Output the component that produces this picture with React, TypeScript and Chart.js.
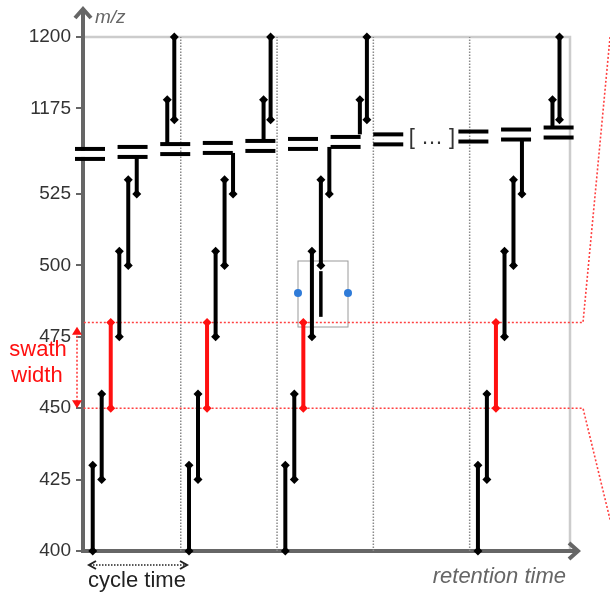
import React, { useEffect, useRef } from 'react';
import { Chart, registerables } from 'chart.js';
Chart.register(...registerables);

// ---------- data ----------
// m/z values above the axis break are drawn shifted down by BREAK_SHIFT
const BREAK_SHIFT = 620;
const yTickValues = [400, 425, 450, 475, 500, 525, 1175, 1200];
const toAxis = (mz: number) => (mz > 1000 ? mz - BREAK_SHIFT : mz);

// retention time in units of one cycle time; cycle 4 is elided ("[ … ]")
const cycleStarts = [0, 1, 2, 4];
const cycleBoundaries = [1.015, 2.015, 3.015, 4.015];
const scanOffsets = [0.101, 0.194, 0.288, 0.377, 0.47, 0.558, 0.875, 0.948];
// isolation windows (m/z); null = the scan runs into the axis break
const windowLow: (number | null)[] = [400, 425, 450, 475, 500, 525, null, 1171];
const windowHigh: (number | null)[] = [430, 455, 480, 505, 530, null, 1178, 1200];
const highlightedScan = 2;
// where the break-crossing scans meet the break marks (axis units), per cycle
const lowerBreakEnds = [538.0, 539.4, 541.5, 544.3];
const upperBreakEnds = [542.5, 543.6, 545.9, 548.3];

// axis-break marks: start time and level of the upper stroke of each pair
const breakStarts = [-0.083, 0.359, 0.802, 1.244, 1.686, 2.129, 2.571, 3.014, 3.898, 4.341, 4.783];
const breakLevels = [540.8, 541.5, 542.5, 542.9, 543.6, 544.3, 545.0, 545.9, 546.9, 547.6, 548.3];
const breakLength = 0.3115;
const breakGap = 3.5;

// selected scan extension (cycle 3, scan 5)
const selectedScan = { cycle: 2, scan: 4, from: 498, to: 482 };

// swath (isolation window) guide levels and where they leave the plot
const guideLevels = [480, 450];
const guideKnee = 5.192;
const guideEndX = 5.473;
const guideEndY = [580, 411];

const X_MIN = 0;
const X_MAX = 5.057;

// ---------- styles ----------
const FONT = "'Liberation Sans', Arial, sans-serif";
const BLACK = '#000000';
const RED = '#ff1010';
const AXIS = '#666666';

function buildDatasets() {
  const ds: any[] = [];
  cycleStarts.forEach((c, ci) => {
    scanOffsets.forEach((off, si) => {
      const x = c + off;
      const lo = windowLow[si];
      const hi = windowHigh[si];
      const yLo = lo === null ? upperBreakEnds[ci] : toAxis(lo);
      const yHi = hi === null ? lowerBreakEnds[ci] : toAxis(hi);
      const col = si === highlightedScan ? RED : BLACK;
      ds.push({
        data: [{ x, y: yLo }, { x, y: yHi }],
        borderColor: col,
        backgroundColor: col,
        pointBackgroundColor: col,
        pointBorderColor: col,
        borderWidth: 4,
        pointStyle: 'rectRot',
        pointRadius: [lo === null ? 0 : 4.5, hi === null ? 0 : 4.5],
        pointBorderWidth: 0,
        order: 1,
        clip: false,
      });
    });
  });
  // extension of the selected scan
  const sx = cycleStarts[selectedScan.cycle] + scanOffsets[selectedScan.scan];
  ds.push({
    data: [{ x: sx, y: selectedScan.to }, { x: sx, y: selectedScan.from }],
    borderColor: BLACK, borderWidth: 3.5, pointRadius: 0, order: 1,
  });
  // axis break marks
  breakStarts.forEach((s, i) => {
    const top = breakLevels[i];
    const bot = top - breakGap;
    ds.push({
      data: [{ x: s, y: top }, { x: s + breakLength, y: top }],
      borderColor: BLACK, borderWidth: 4, pointRadius: 0, clip: false, order: 0,
    });
    ds.push({
      data: [{ x: s, y: bot }, { x: s + breakLength, y: bot }],
      borderColor: BLACK, borderWidth: 4, pointRadius: 0, clip: false, order: 0,
    });
    if (i === 0) {
      ds.push({
        data: [{ x: s, y: (top + bot) / 2 }, { x: s + breakLength, y: (top + bot) / 2 }],
        borderColor: '#ffffff', borderWidth: 6, pointRadius: 0, clip: false, order: 0.5,
      });
    }
  });
  // cycle boundaries (dotted)
  cycleBoundaries.forEach((b) => {
    ds.push({
      data: [{ x: b, y: 400 }, { x: b, y: 580 }],
      borderColor: '#8a8a8a', borderWidth: 1.5, borderDash: [1.5, 1.5], pointRadius: 0, order: 5,
    });
  });
  // swath guide lines (listed right-to-left)
  guideLevels.forEach((lv, i) => {
    ds.push({
      data: [{ x: guideEndX, y: guideEndY[i] }, { x: guideKnee, y: lv }, { x: X_MIN, y: lv }],
      borderColor: '#ff4040', borderWidth: 1.6, borderDash: [2, 2], pointRadius: 0, clip: false, order: 4,
    });
  });
  return ds;
}

const overlay = {
  id: 'overlay',
  beforeDatasetsDraw(chart: any) {
    const { ctx, chartArea: a } = chart;
    ctx.save();
    // light frame
    ctx.strokeStyle = '#cccccc';
    ctx.lineWidth = 2.5;
    ctx.beginPath();
    ctx.moveTo(a.left, a.top);
    ctx.lineTo(a.right, a.top);
    ctx.lineTo(a.right, a.bottom);
    ctx.stroke();
    // selection box
    ctx.strokeStyle = '#9a9a9a';
    ctx.lineWidth = 1;
    ctx.strokeRect(298, 261, 50, 66);
    // axes
    ctx.strokeStyle = AXIS;
    ctx.lineWidth = 4;
    ctx.beginPath();
    ctx.moveTo(a.left, a.bottom + 2);
    ctx.lineTo(a.left, 9);
    ctx.stroke();
    ctx.beginPath();
    ctx.moveTo(a.left - 2, a.bottom);
    ctx.lineTo(577, a.bottom);
    ctx.stroke();
    ctx.lineJoin = 'miter';
    ctx.beginPath();
    ctx.moveTo(a.left - 8, 18);
    ctx.lineTo(a.left, 9);
    ctx.lineTo(a.left + 8, 18);
    ctx.stroke();
    ctx.beginPath();
    ctx.moveTo(569, a.bottom - 8);
    ctx.lineTo(578, a.bottom);
    ctx.lineTo(569, a.bottom + 8);
    ctx.stroke();
    ctx.restore();
  },
  afterDatasetsDraw(chart: any) {
    const { ctx, scales } = chart;
    const x = scales.x;
    const y = scales.y;
    ctx.save();
    ctx.textBaseline = 'middle';
    // axis titles
    ctx.fillStyle = AXIS;
    ctx.font = `italic 19px ${FONT}`;
    ctx.textAlign = 'left';
    ctx.fillText('m/z', 95, 18);
    ctx.font = `italic 22px ${FONT}`;
    ctx.textAlign = 'right';
    ctx.fillText('retention time', 566, 577);
    // cycle time
    ctx.fillStyle = '#222222';
    ctx.font = `22px ${FONT}`;
    ctx.textAlign = 'center';
    ctx.fillText('cycle time', 137, 581);
    ctx.strokeStyle = '#222222';
    ctx.lineWidth = 1.5;
    ctx.setLineDash([1.5, 1.5]);
    ctx.beginPath();
    ctx.moveTo(90, 565);
    ctx.lineTo(186, 565);
    ctx.stroke();
    ctx.setLineDash([]);
    ctx.lineWidth = 2;
    ctx.beginPath();
    ctx.moveTo(96, 561); ctx.lineTo(89, 565); ctx.lineTo(96, 569);
    ctx.moveTo(180, 561); ctx.lineTo(187, 565); ctx.lineTo(180, 569);
    ctx.stroke();
    // swath width
    ctx.fillStyle = RED;
    ctx.font = `22px ${FONT}`;
    ctx.fillText('swath', 38, 350);
    ctx.fillText('width', 37, 376);
    const yTop = y.getPixelForValue(478.5);
    const yBot = y.getPixelForValue(450);
    ctx.strokeStyle = '#ff4040';
    ctx.lineWidth = 1.6;
    ctx.setLineDash([2, 2]);
    ctx.beginPath();
    ctx.moveTo(77, yTop + 5);
    ctx.lineTo(77, yBot - 5);
    ctx.stroke();
    ctx.setLineDash([]);
    ctx.beginPath();
    ctx.moveTo(77, yTop); ctx.lineTo(72, yTop + 8); ctx.lineTo(82, yTop + 8); ctx.closePath();
    ctx.moveTo(77, yBot); ctx.lineTo(72, yBot - 8); ctx.lineTo(82, yBot - 8); ctx.closePath();
    ctx.fill();
    // elided cycles
    ctx.fillStyle = '#333333';
    ctx.font = `22px ${FONT}`;
    ctx.fillText('[ … ]', x.getPixelForValue(3.624), y.getPixelForValue(544.5));
    // selection handles
    ctx.fillStyle = '#2f7bd8';
    [298, 348].forEach((px) => {
      ctx.beginPath();
      ctx.arc(px, 293, 4, 0, Math.PI * 2);
      ctx.fill();
    });
    ctx.restore();
  },
};

export default function App() {
  const ref = useRef<HTMLCanvasElement>(null);
  useEffect(() => {
    if (!ref.current) return;
    const chart = new Chart(ref.current, {
      type: 'scatter',
      data: { datasets: buildDatasets() },
      options: {
        responsive: false,
        animation: false,
        showLine: true,
        devicePixelRatio: 1,
        layout: { padding: { left: 0, top: 37, right: 40, bottom: 43 } },
        plugins: { legend: { display: false }, tooltip: { enabled: false } },
        scales: {
          x: { type: 'linear', min: X_MIN, max: X_MAX, display: false },
          y: {
            type: 'linear',
            min: 400,
            max: 580,
            afterBuildTicks: (s: any) => {
              s.ticks = yTickValues.map((v) => ({ value: toAxis(v) }));
            },
            afterFit: (s: any) => {
              s.width = 83;
            },
            ticks: {
              autoSkip: false,
              padding: 5,
              color: '#333333',
              font: { family: FONT, size: 19 },
              callback: (v: any) => String(v > 560 || v > 540 ? v + BREAK_SHIFT : v),
            },
            grid: { drawOnChartArea: false, drawTicks: true, tickLength: 7, color: AXIS, lineWidth: 2 },
            border: { display: false },
          },
        },
      } as any,
      plugins: [overlay],
    });
    return () => chart.destroy();
  }, []);
  return (
    <div style={{ position: 'absolute', left: 0, top: 0, width: 610, height: 594, background: '#fff' }}>
      <canvas ref={ref} width={610} height={594} />
    </div>
  );
}
